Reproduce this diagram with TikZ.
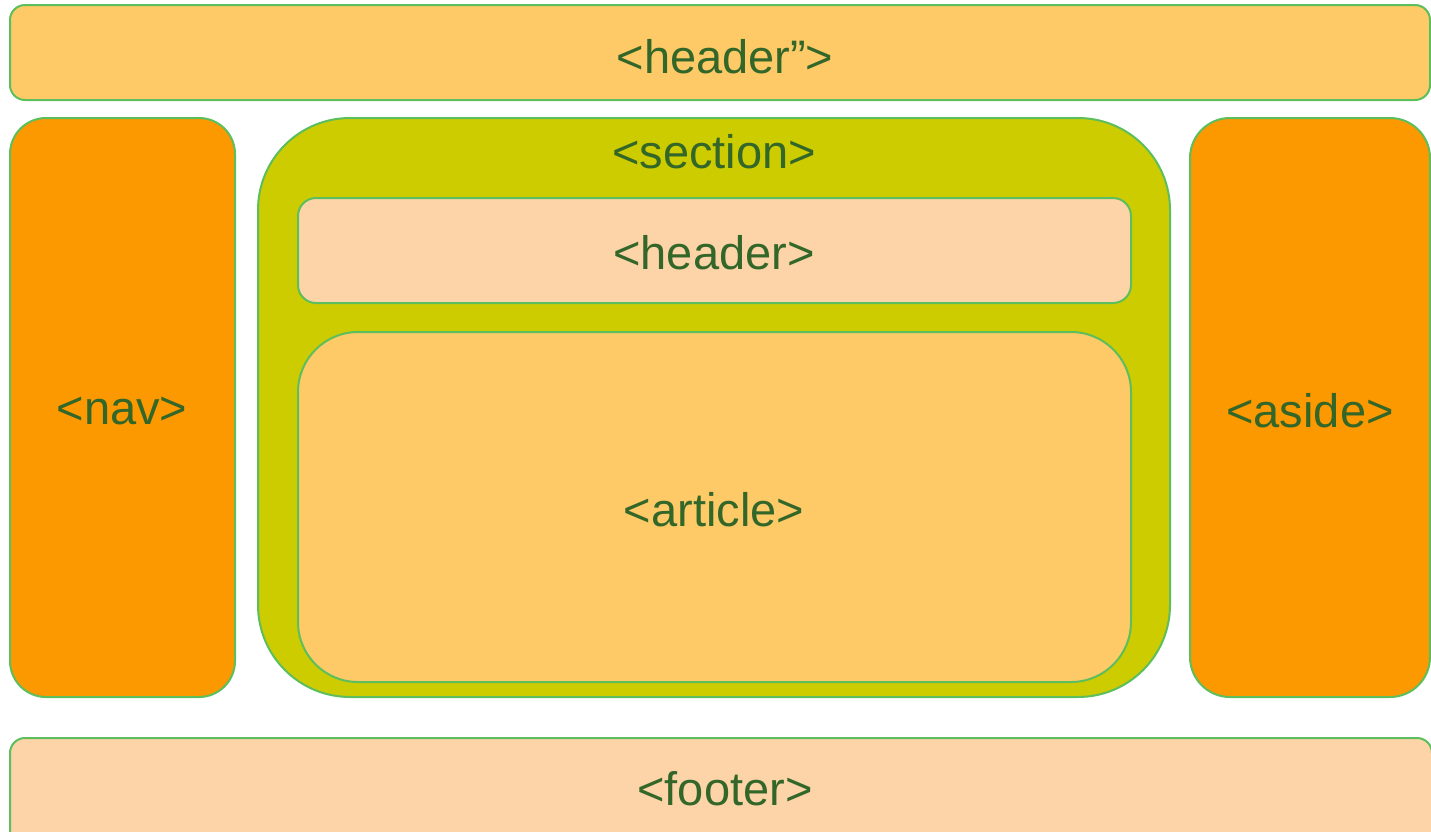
\documentclass[tikz,border=0pt]{standalone}
\usepackage{fontspec}
\setmainfont{Liberation Sans}
\usetikzlibrary{calc}
\definecolor{lightorange}{HTML}{FDCA67}
\definecolor{darkorange}{HTML}{FC9800}
\definecolor{olive}{HTML}{CCCC00}
\definecolor{peach}{HTML}{FDD4A8}
\definecolor{rimgreen}{HTML}{5DBE5D}
\definecolor{textgreen}{HTML}{336629}
\tikzset{
  block/.style={draw=rimgreen,line width=2pt},
  tag/.style={text=textgreen,font=\fontsize{47}{56}\selectfont,inner sep=0pt}
}
\begin{document}
\begin{tikzpicture}[x=1pt,y=-1pt]
% canvas
\useasboundingbox (0,0) rectangle (1431,831);
\clip (0,0) rectangle (1431,831);
\pgfmathsetmacro{\top}{118}
\pgfmathsetmacro{\bot}{697}

% page header
\coordinate (P1) at (10,5);
\coordinate (P2) at (1430,100);
\draw[block,fill=lightorange,rounded corners=15pt] (P1) rectangle (P2);
\node[tag] (pagehead) at (725,57) {<header”>};

% nav
\coordinate (N1) at (10,\top);
\coordinate (N2) at (235,\bot);
\draw[block,fill=darkorange,rounded corners=36pt] (N1) rectangle (N2);
\node[tag] (nav) at (122,411) {<nav>};

% section
\coordinate (S1) at (258,\top);
\coordinate (S2) at (1170,\bot);
\draw[block,fill=olive,rounded corners=92pt] (S1) rectangle (S2);
\node[tag] (section) at (714,152) {<section>};

% section header
\coordinate (H1) at (298,198);
\coordinate (H2) at (1131,303);
\draw[block,fill=peach,rounded corners=18pt] (H1) rectangle (H2);
\node[tag] (sechead) at (714,253) {<header>};

% article
\coordinate (A1) at (298,332);
\coordinate (A2) at (1131,682);
\draw[block,fill=lightorange,rounded corners=60pt] (A1) rectangle (A2);
\node[tag] (article) at (714,510) {<article>};

% aside
\coordinate (R1) at (1190,\top);
\coordinate (R2) at (1430,\bot);
\draw[block,fill=darkorange,rounded corners=40pt] (R1) rectangle (R2);
\node[tag] (aside) at (1310,411) {<aside>};

% footer
\coordinate (F1) at (10,738);
\coordinate (F2) at (1432,850);
\draw[block,fill=peach,rounded corners=15pt] (F1) rectangle (F2);
\node[tag] (footer) at (725,789) {<footer>};
\end{tikzpicture}
\end{document}
